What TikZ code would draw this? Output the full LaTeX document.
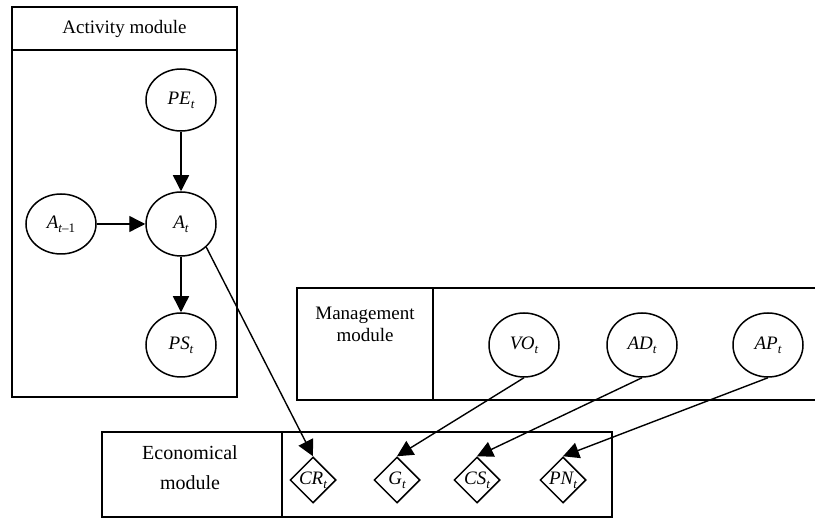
\documentclass[tikz,border=0pt]{standalone}
\usepackage{fontspec}
\setmainfont{Liberation Serif}
\usetikzlibrary{arrows.meta,shapes.geometric}
\newcommand{\sbt}[1]{\raisebox{-0.45ex}{\fontsize{13}{13}\selectfont #1}}
\begin{document}
\begin{tikzpicture}[x=1pt,y=-1pt,
  box/.style={draw,line width=1.5pt},
  title/.style={inner sep=0pt,align=center,font=\fontsize{19}{23}\selectfont},
  ell/.style={draw,ellipse,line width=1.5pt,minimum width=70pt,minimum height=64pt,inner sep=0pt,font=\fontsize{19}{19}\selectfont\itshape},
  dia/.style={draw,diamond,line width=1.5pt,minimum width=46pt,minimum height=46pt,inner sep=0pt},
  dlab/.style={label={[inner sep=0pt,font=\fontsize{19}{19}\selectfont\itshape]center:#1}},
  arr/.style={line width=1.4pt,-{Triangle[length=16pt,width=16pt]}}]
\useasboundingbox (0,0) rectangle (815,518);
\clip (0,0) rectangle (815,518);
% Activity module
\draw[box] (12,7) rectangle (237,397);
\draw[box] (12,50) -- (237,50);
\node[title] (acttitle) at (124.5,29) {Activity module};
\node[ell,minimum height=62pt] (PE) at (181,100) {PE\sbt{t}};
\node[ell] (A) at (181,224) {A\sbt{t}};
\node[ell,minimum height=60pt] (Am) at (61,224) {A\sbt{t\upshape–1}};
\node[ell] (PS) at (181,345) {PS\sbt{t}};
\draw[arr] (PE.south) -- (A.north);
\draw[arr] (Am.east) -- (A.west);
\draw[arr] (A.south) -- (PS.north);
% Management module
\draw[box] (297,288) rectangle (830,400);
\draw[box] (433,288) -- (433,400);
\node[title,font=\fontsize{19}{22}\selectfont] (mgtitle) at (365,324) {Management\\module};
\node[ell] (VO) at (524,345) {VO\sbt{t}};
\node[ell] (AD) at (642,345) {AD\sbt{t}};
\node[ell] (AP) at (768,345) {AP\sbt{t}};
% Economical module
\draw[box] (102,432) rectangle (612,517);
\draw[box] (282,432) -- (282,517);
\node[title,font=\fontsize{20}{30}\selectfont] (ectitle) at (190,468) {Economical\\module};
\node[dia,dlab={CR\sbt{t}}] (CR) at (313,480) {};
\node[dia,dlab={G\sbt{t}}] (G) at (397,480) {};
\node[dia,dlab={CS\sbt{t}}] (CS) at (477,480) {};
\node[dia,dlab={PN\sbt{t}}] (PN) at (563,480) {};
% cross-module arrows
\draw[arr] (A.south east) -- (CR.north);
\draw[arr] (VO.south) -- (G.north);
\draw[arr] (AD.south) -- (CS.north);
\draw[arr] (AP.south) -- (PN.north);
\end{tikzpicture}
\end{document}
